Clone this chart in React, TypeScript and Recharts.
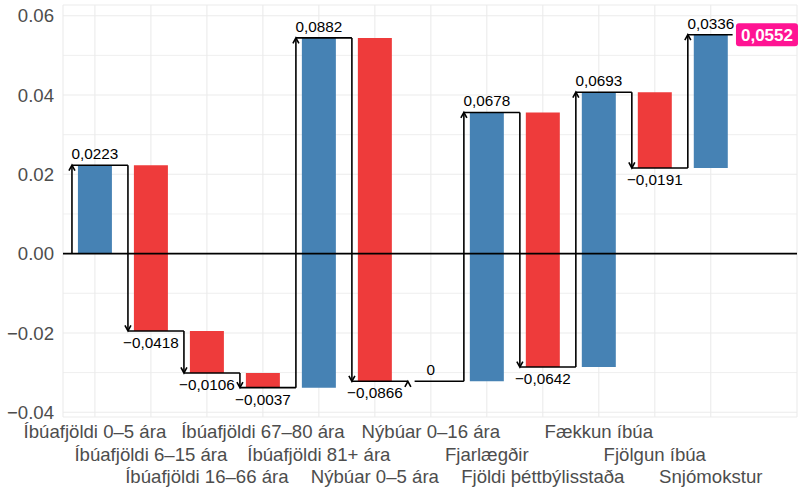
import {
  ComposedChart,
  Bar,
  Cell,
  XAxis,
  YAxis,
  CartesianGrid,
  ReferenceLine,
  ReferenceDot,
} from 'recharts';

const categories = [
  'Íbúafjöldi 0–5 ára',
  'Íbúafjöldi 6–15 ára',
  'Íbúafjöldi 16–66 ára',
  'Íbúafjöldi 67–80 ára',
  'Íbúafjöldi 81+ ára',
  'Nýbúar 0–5 ára',
  'Nýbúar 0–16 ára',
  'Fjarlægðir',
  'Fjöldi þéttbýlisstaða',
  'Fækkun íbúa',
  'Fjölgun íbúa',
  'Snjómokstur',
];

const changes = [0.0223, -0.0418, -0.0106, -0.0037, 0.0882, -0.0866, 0, 0.0678, -0.0642, 0.0693, -0.0191, 0.0336];

const yTicks = [-0.04, -0.02, 0, 0.02, 0.04, 0.06];
const yMinor = [-0.03, -0.01, 0.01, 0.03, 0.05];

const FONT = '"Liberation Sans", Arial, Helvetica, sans-serif';
const UP = '#4682B4';
const DOWN = '#EE3B3B';
const TOTAL = '#FF1493';
const LW = 1.6;

// arrows sit a bit left of each bar, connectors run to the next arrow
const ARROW_DX = 0.41;

let level = 0;
const steps = categories.map((name, i) => {
  const start = level;
  const end = level + changes[i];
  level = end;
  return {
    pos: i + 1,
    name,
    start,
    end,
    delta: changes[i],
    range: [Math.min(start, end), Math.max(start, end)],
  };
});
const total = level;
const xTicks = steps.map((s) => s.pos);

const fmtChange = (v: number) => {
  if (Math.abs(v) < 1e-9) return '0';
  return (v < 0 ? '−' : '') + Math.abs(v).toFixed(4).replace('.', ',');
};

const fmtY = (v: number) => (v < 0 ? '−' : '') + Math.abs(v).toFixed(2);

const XTick = (props: any) => {
  const { x, y, payload, index } = props;
  const row = index % 3;
  return (
    <text x={x} y={y + 21 + row * 22.6} textAnchor="middle" fill="#4D4D4D" fontSize={18.6} fontFamily={FONT}>
      {categories[payload.value - 1]}
    </text>
  );
};

const YTick = (props: any) => {
  const { y, payload } = props;
  return (
    <text x={54} y={y + 6.6} textAnchor="end" fill="#4D4D4D" fontSize={18.6} fontFamily={FONT}>
      {fmtY(payload.value)}
    </text>
  );
};

const Arrow = (props: any) => {
  const { x1, y1, x2, y2 } = props;
  const dir = y2 <= y1 ? 1 : -1;
  return (
    <g>
      <line x1={x1} y1={y1} x2={x2} y2={y2} stroke="#000" strokeWidth={LW} />
      <polyline
        points={`${x2 - 3},${y2 + dir * 5.5} ${x2},${y2} ${x2 + 3},${y2 + dir * 5.5}`}
        fill="none"
        stroke="#000"
        strokeWidth={LW}
      />
    </g>
  );
};

export default function App() {
  return (
    <div style={{ position: 'absolute', left: 0, top: 0 }}>
      <ComposedChart
        width={799}
        height={489}
        data={steps}
        margin={{ top: 5, right: 2, bottom: 0, left: 0 }}
      >
        <CartesianGrid stroke="#EBEBEB" strokeWidth={1.1} />
        <CartesianGrid stroke="#EBEBEB" strokeWidth={0.8} vertical={false} horizontalValues={yMinor} />
        <XAxis
          type="number"
          dataKey="pos"
          domain={[0.43, 13.54]}
          ticks={xTicks}
          interval={0}
          allowDataOverflow
          axisLine={false}
          tickLine={false}
          tickSize={0}
          tickMargin={0}
          height={72}
          tick={<XTick />}
        />
        <YAxis
          type="number"
          domain={[-0.0412, 0.0627]}
          ticks={yTicks}
          allowDataOverflow
          axisLine={false}
          tickLine={false}
          width={63}
          tick={<YTick />}
        />
        <Bar dataKey="range" barSize={34} isAnimationActive={false}>
          {steps.map((s) => (
            <Cell key={s.pos} fill={s.delta >= 0 ? UP : DOWN} />
          ))}
        </Bar>
        <ReferenceLine y={0} stroke="#000" strokeWidth={1.7} />
        {steps.map((s, i) => (
          <ReferenceLine
            key={`c-${s.pos}`}
            segment={[
              // a zero step leaves a small gap after its arrowhead
              { x: s.pos - ARROW_DX + (s.delta === 0 ? 0.12 : 0), y: s.end },
              { x: i === steps.length - 1 ? s.pos + 0.39 : s.pos + 1 - ARROW_DX, y: s.end },
            ]}
            stroke="#000"
            strokeWidth={LW}
          />
        ))}
        {steps.map((s) => (
          <ReferenceLine
            key={`a-${s.pos}`}
            segment={[
              { x: s.pos - ARROW_DX, y: s.start },
              { x: s.pos - ARROW_DX, y: s.end },
            ]}
            shape={(p: any) => <Arrow {...p} />}
          />
        ))}
        {steps.map((s) => (
          <ReferenceDot
            key={`l-${s.pos}`}
            x={s.pos}
            y={s.end}
            r={0}
            shape={(p: any) => (
              <text
                x={p.cx}
                y={p.cy + (s.delta >= 0 ? -6 : 17)}
                textAnchor="middle"
                fill="#000"
                fontSize={15.3}
                fontFamily={FONT}
              >
                {fmtChange(s.delta)}
              </text>
            )}
          />
        ))}
        <ReferenceDot
          x={12.45}
          y={total}
          r={0}
          shape={(p: any) => (
            <g>
              <rect x={p.cx} y={p.cy - 11.5} width={62} height={23} rx={3} fill={TOTAL} />
              <text
                x={p.cx + 31}
                y={p.cy + 6}
                textAnchor="middle"
                fill="#fff"
                fontSize={17}
                fontWeight="bold"
                fontFamily={FONT}
              >
                {fmtChange(total)}
              </text>
            </g>
          )}
        />
      </ComposedChart>
    </div>
  );
}
